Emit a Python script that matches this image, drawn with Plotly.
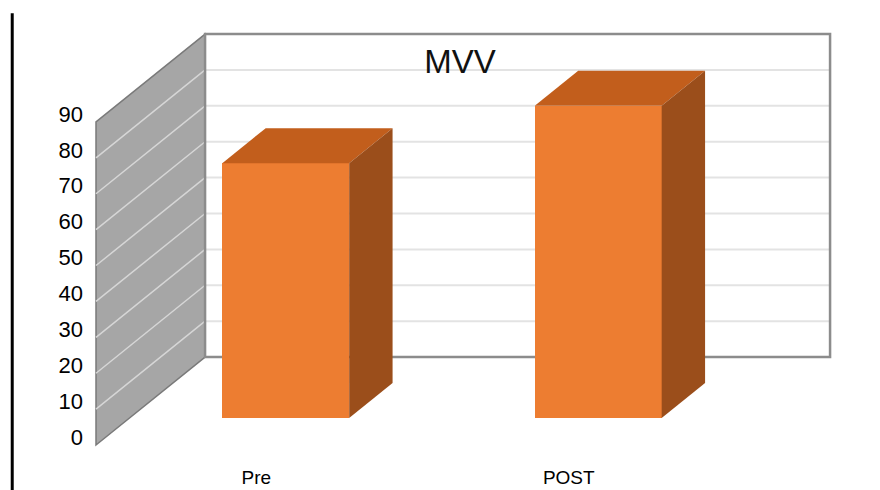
import plotly.graph_objects as go

# Data
categories = ["Pre", "POST"]
values = [71, 87]
y_ticks = [0, 10, 20, 30, 40, 50, 60, 70, 80, 90]
title_text = "MVV"

# Oblique 3-D projection settings (depth offset expressed in axis units)
DEPTH_X = 0.349        # x shift of the full wall depth
DEPTH_Y = 24.5         # y shift of the full wall depth
BAR_D0, BAR_D1 = 0.307, 0.705   # bar front / back depth fractions
BAR_W = 0.406
Y_MAX = 90

FRONT = "#ED7D31"
TOP = "#C25E1C"
SIDE = "#9B4E1B"
WALL = "#A6A6A6"
WALL_GRID = "#D6D6D6"
BACK_GRID = "#E3E3E3"
BACK_EDGE = "#8C8C8C"

x_left = -0.5
x_right = len(categories) - 0.5

fig = go.Figure()
shapes = []

# side wall (left)
sx0, sx1 = x_left, x_left + DEPTH_X
shapes.append(dict(
    type="path", xref="x", yref="y", layer="below",
    path=f"M{sx0},0 L{sx1},{DEPTH_Y} L{sx1},{Y_MAX + DEPTH_Y} L{sx0},{Y_MAX} Z",
    fillcolor=WALL, line=dict(color="#7A7A7A", width=1.5)))
for t in y_ticks[1:-1]:
    shapes.append(dict(type="line", xref="x", yref="y", layer="below",
                       x0=sx0, y0=t, x1=sx1, y1=t + DEPTH_Y,
                       line=dict(color=WALL_GRID, width=1.5)))

# back wall
bx0, bx1 = x_left + DEPTH_X, x_right + DEPTH_X
for t in y_ticks[1:-1]:
    shapes.append(dict(type="line", xref="x", yref="y", layer="below",
                       x0=bx0, y0=t + DEPTH_Y, x1=bx1, y1=t + DEPTH_Y,
                       line=dict(color=BACK_GRID, width=2)))
shapes.append(dict(type="rect", xref="x", yref="y", layer="below",
                   x0=bx0, y0=DEPTH_Y, x1=bx1, y1=Y_MAX + DEPTH_Y,
                   fillcolor="rgba(0,0,0,0)", line=dict(color=BACK_EDGE, width=2.5)))

# vertical rule at the far left
shapes.append(dict(type="line", xref="paper", yref="paper",
                   x0=-0.101, x1=-0.101, y0=-0.1, y1=0.993,
                   line=dict(color="black", width=3)))

# bars: front faces
fx = [i + BAR_D0 * DEPTH_X for i in range(len(categories))]
base = BAR_D0 * DEPTH_Y
fig.add_trace(go.Bar(x=fx, y=values, base=base, width=BAR_W,
                     marker=dict(color=FRONT, line=dict(width=0)),
                     hoverinfo="skip", showlegend=False))

# bars: top and side faces
dd = BAR_D1 - BAR_D0
for i, v in enumerate(values):
    l = fx[i] - BAR_W / 2
    r = fx[i] + BAR_W / 2
    top = v + base
    ox, oy = dd * DEPTH_X, dd * DEPTH_Y
    fig.add_trace(go.Scatter(
        x=[l, r, r + ox, l + ox, l], y=[top, top, top + oy, top + oy, top],
        fill="toself", fillcolor=TOP, mode="lines", line=dict(width=0, color=TOP),
        hoverinfo="skip", showlegend=False))
    fig.add_trace(go.Scatter(
        x=[r, r + ox, r + ox, r, r], y=[base, base + oy, top + oy, top, base],
        fill="toself", fillcolor=SIDE, mode="lines", line=dict(width=0, color=SIDE),
        hoverinfo="skip", showlegend=False))

fig.update_layout(
    width=880, height=490,
    margin=dict(l=90, r=20, t=10, b=30, autoexpand=False),
    paper_bgcolor="white", plot_bgcolor="white",
    font=dict(family="Liberation Sans, Arial, sans-serif", color="#000000", size=19),
    title=dict(text=title_text, xref="paper", x=0.4805, xanchor="center",
               yref="container", y=1 - 61 / 490,
               yanchor="middle", font=dict(size=33, color="#111111")),
    shapes=shapes,
    showlegend=False,
    bargap=0,
)
fig.update_xaxes(range=[-0.5192, 1.9448], tickvals=list(range(len(categories))),
                 ticktext=categories, showgrid=False, zeroline=False, showline=False,
                 ticks="", ticklabelshift=4, ticklabelstandoff=4, automargin=False,
                 tickfont=dict(size=19))
fig.update_yaxes(range=[-4.18, 121.2], tickvals=y_ticks, showgrid=False,
                 zeroline=False, showline=False, ticks="", ticklabelshift=-8,
                 ticklabelstandoff=6, automargin=False, tickfont=dict(size=22))

fig.write_html("out.html")
